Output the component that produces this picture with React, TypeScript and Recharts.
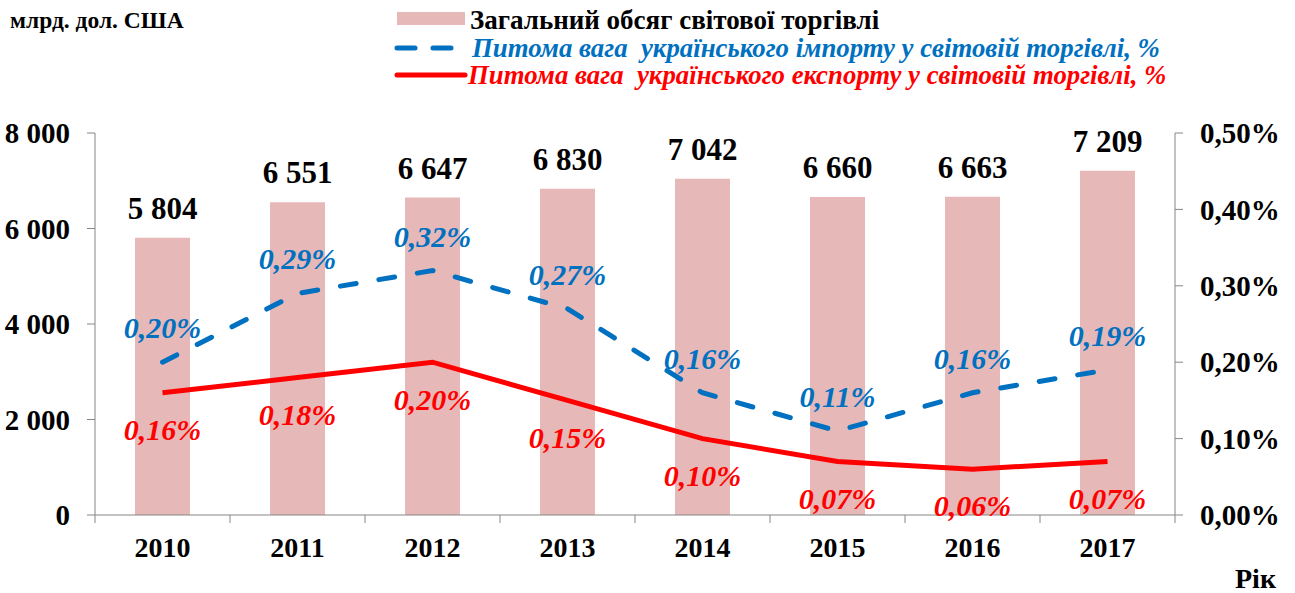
import { ComposedChart, Bar, Line, XAxis, YAxis, LabelList } from 'recharts'

const years = ['2010', '2011', '2012', '2013', '2014', '2015', '2016', '2017']
const worldTrade = [5804, 6551, 6647, 6830, 7042, 6660, 6663, 7209]
const importShare = [0.2, 0.29, 0.32, 0.27, 0.16, 0.11, 0.16, 0.19]
const exportShare = [0.16, 0.18, 0.2, 0.15, 0.1, 0.07, 0.06, 0.07]
const leftTicks = [0, 2000, 4000, 6000, 8000]
const rightTicks = [0, 0.1, 0.2, 0.3, 0.4, 0.5]

const data = years.map((year, i) => ({
  year,
  trade: worldTrade[i],
  imp: importShare[i],
  exp: exportShare[i],
}))

const W = 1295
const H = 593
const LEFT_W = 95
const RIGHT_W = 120
const BAND = (W - LEFT_W - RIGHT_W) / years.length

const FONT = 'Times New Roman, Liberation Serif, DejaVu Serif, serif'
const AXIS = '#868686'
const BAR = '#e6b9b8'
const BLUE = '#0070c0'
const RED = '#ff0000'

const thousands = (v: number) => String(v).replace(/\B(?=(\d{3})+(?!\d))/g, ' ')
const pct = (v: number) => v.toFixed(2).replace('.', ',') + '%'

// year label at band centre, tick marks on the band edges
function YearTick(props: any) {
  const { x, y, payload, index } = props
  const top = y - 22
  return (
    <g>
      <line x1={x + BAND / 2} y1={top} x2={x + BAND / 2} y2={top + 8} stroke={AXIS} />
      {index === 0 && (
        <line x1={x - BAND / 2} y1={top} x2={x - BAND / 2} y2={top + 8} stroke={AXIS} />
      )}
      <text x={x} y={y + 20} textAnchor="middle" fontSize={28} fontWeight="bold" fontFamily={FONT} fill="#000">
        {payload.value}
      </text>
    </g>
  )
}

export default function App() {
  const tickStyle = { fill: '#000', fontSize: 29, fontWeight: 'bold', fontFamily: FONT }
  const pctLabel = { fontSize: 30, fontWeight: 'bold', fontStyle: 'italic', fontFamily: FONT }
  return (
    <div style={{ position: 'absolute', left: 0, top: 0, width: W, height: H, background: '#fff', fontFamily: FONT }}>
      <ComposedChart width={W} height={H} data={data} margin={{ top: 133, right: 0, bottom: 0, left: 0 }}>
        <XAxis
          dataKey="year"
          height={78}
          axisLine={{ stroke: AXIS }}
          tickLine={false}
          tickSize={8}
          tickMargin={14}
          tick={<YearTick />}
        />
        <YAxis
          yAxisId="left"
          width={LEFT_W}
          domain={[0, 8000]}
          ticks={leftTicks}
          tickFormatter={thousands}
          axisLine={{ stroke: AXIS }}
          tickLine={{ stroke: AXIS }}
          tickSize={8}
          tickMargin={17}
          tick={tickStyle}
        />
        <YAxis
          yAxisId="right"
          orientation="right"
          width={RIGHT_W}
          domain={[0, 0.5]}
          ticks={rightTicks}
          tickFormatter={pct}
          axisLine={{ stroke: AXIS }}
          tickLine={{ stroke: AXIS }}
          tickSize={8}
          tickMargin={17}
          tick={tickStyle}
        />
        <Bar yAxisId="left" dataKey="trade" fill={BAR} barSize={55} isAnimationActive={false}>
          <LabelList
            dataKey="trade"
            position="top"
            offset={19}
            formatter={(v: any) => thousands(v)}
            style={{ fill: '#000', fontSize: 31, fontWeight: 'bold', fontFamily: FONT }}
          />
        </Bar>
        <Line
          yAxisId="right"
          dataKey="imp"
          type="linear"
          stroke={BLUE}
          strokeWidth={5}
          strokeDasharray="16 23"
          strokeLinecap="round"
          dot={false}
          isAnimationActive={false}
        >
          <LabelList
            dataKey="imp"
            position="top"
            offset={24}
            formatter={(v: any) => pct(v)}
            style={{ ...pctLabel, fill: BLUE }}
          />
        </Line>
        <Line
          yAxisId="right"
          dataKey="exp"
          type="linear"
          stroke={RED}
          strokeWidth={5}
          dot={false}
          isAnimationActive={false}
        >
          <LabelList
            dataKey="exp"
            position="bottom"
            offset={26}
            formatter={(v: any) => pct(v)}
            style={{ ...pctLabel, fill: RED }}
          />
        </Line>
      </ComposedChart>
      <svg width={W} height={H} style={{ position: 'absolute', left: 0, top: 0, pointerEvents: 'none' }}>
        <text x={10} y={28} fontSize={23.5} fontWeight="bold" fontFamily={FONT} fill="#000">
          млрд. дол. США
        </text>
        <rect x={397} y={12} width={68} height={13} fill={BAR} />
        <text x={470} y={29} fontSize={27} fontWeight="bold" fontFamily={FONT} fill="#000">
          Загальний обсяг світової торгівлі
        </text>
        <line x1={397} y1={48} x2={457} y2={48} stroke={BLUE} strokeWidth={5} strokeDasharray="18 18" strokeLinecap="round" />
        <text x={472} y={57} fontSize={26.8} fontWeight="bold" fontStyle="italic" fontFamily={FONT} fill={BLUE} style={{ whiteSpace: 'pre' }}>
          {'Питома вага  українського імпорту у світовій торгівлі, %'}
        </text>
        <line x1={397} y1={75} x2={465} y2={75} stroke={RED} strokeWidth={5} strokeLinecap="round" />
        <text x={468} y={84} fontSize={26.8} fontWeight="bold" fontStyle="italic" fontFamily={FONT} fill={RED} style={{ whiteSpace: 'pre' }}>
          {'Питома вага  українського експорту у світовій торгівлі, %'}
        </text>
        <text x={1235} y={588} fontSize={28} fontWeight="bold" fontFamily={FONT} fill="#000">
          Рік
        </text>
      </svg>
    </div>
  )
}
